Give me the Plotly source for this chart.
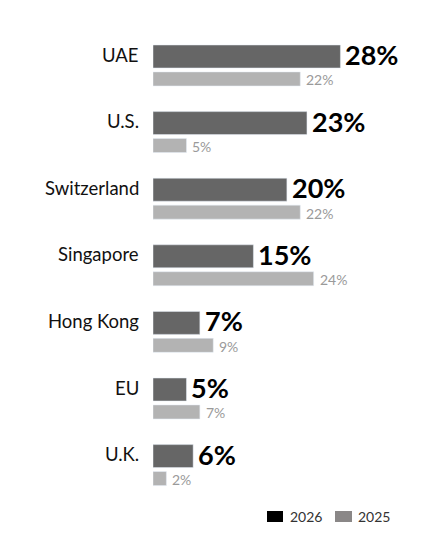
import plotly.graph_objects as go

categories = ["UAE", "U.S.", "Switzerland", "Singapore", "Hong Kong", "EU", "U.K."]
values_2026 = [28, 23, 20, 15, 7, 5, 6]
values_2025 = [22, 5, 22, 24, 9, 7, 2]
legend_labels = ["2026", "2025"]

DARK = "#666666"
LIGHT = "#b3b3b3"
FONT = "Lato"

pos = list(range(len(categories)))

fig = go.Figure()
fig.add_trace(go.Bar(
    y=pos, x=values_2026, orientation="h", marker_color=DARK,
    width=0.345, offset=-0.1725, hoverinfo="skip", showlegend=False,
))
fig.add_trace(go.Bar(
    y=pos, x=values_2025, orientation="h", marker_color=LIGHT,
    width=0.21, offset=0.232, hoverinfo="skip", showlegend=False,
))

ann = []
for i, c in enumerate(categories):
    ann.append(dict(x=0, y=i, xref="x", yref="y", text=c, showarrow=False,
                    xanchor="right", yanchor="middle", xshift=-12, yshift=2,
                    font=dict(family=FONT, size=18.5, color="#111111")))
    ann.append(dict(x=values_2026[i], y=i, xref="x", yref="y",
                    text=f"<b>{values_2026[i]}%</b>", showarrow=False,
                    xanchor="left", yanchor="middle", xshift=3, yshift=2,
                    font=dict(family=FONT, size=27, color="#000000")))
    ann.append(dict(x=values_2025[i], y=i + 0.336, xref="x", yref="y",
                    text=f"{values_2025[i]}%", showarrow=False,
                    xanchor="left", yanchor="middle", xshift=4, yshift=-1,
                    font=dict(family=FONT, size=14, color="#9a9a9a")))

# legend (drawn manually to match original swatches)
ann.append(dict(x=0.5466, y=-0.0344, xref="paper", yref="paper", text=legend_labels[0],
                showarrow=False, xanchor="left", yanchor="middle",
                font=dict(family=FONT, size=14, color="#333333")))
ann.append(dict(x=0.8219, y=-0.0344, xref="paper", yref="paper", text=legend_labels[1],
                showarrow=False, xanchor="left", yanchor="middle",
                font=dict(family=FONT, size=14, color="#333333")))
shapes = [
    dict(type="rect", xref="paper", yref="paper", x0=0.4615, x1=0.5263, y0=-0.0458, y1=-0.0229,
         fillcolor="#000000", line=dict(width=0)),
    dict(type="rect", xref="paper", yref="paper", x0=0.7368, x1=0.8057, y0=-0.0458, y1=-0.0229,
         fillcolor="#8a8787", line=dict(width=0)),
]

fig.update_layout(
    width=441, height=538,
    margin=dict(l=153, r=41, t=20, b=38),
    paper_bgcolor="white", plot_bgcolor="white",
    barmode="overlay",
    showlegend=False,
    annotations=ann, shapes=shapes,
    xaxis=dict(range=[0, 36.9], visible=False, fixedrange=True),
    yaxis=dict(range=[6.659, -0.548], visible=False, fixedrange=True),
    font=dict(family=FONT),
)

fig.write_html("out.html")
